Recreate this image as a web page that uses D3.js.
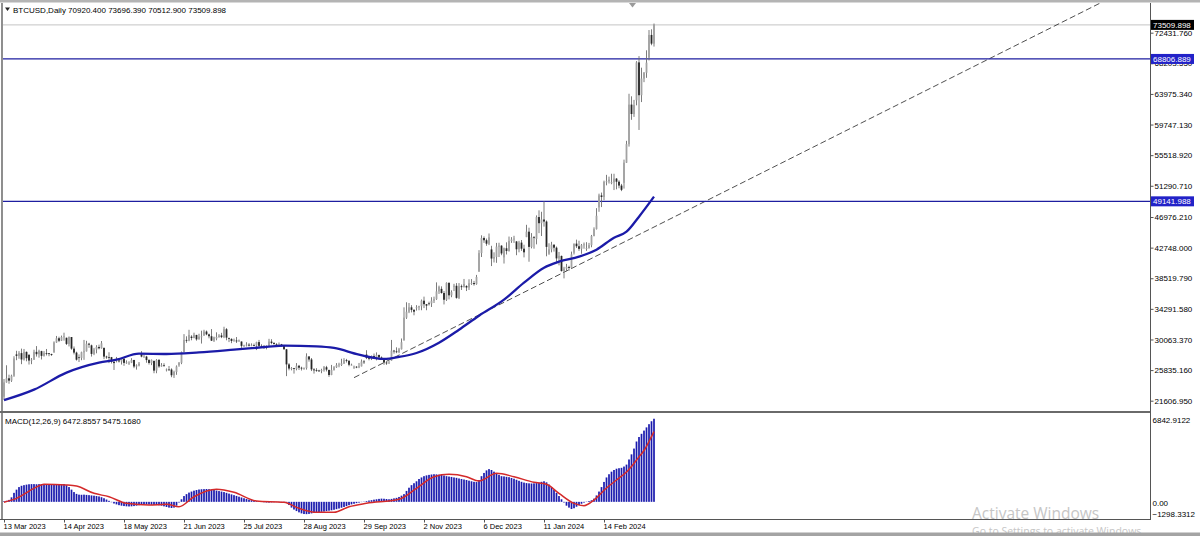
<!DOCTYPE html>
<meta charset="utf-8">
<style>

body {
    margin: 0;
    background: #fff;
}

.chart {
    font-family: "Liberation Sans", Arial, sans-serif;
}

.axis text {
    font-size: 8px;
    fill: #000;
}

.axis--x text {
    font-size: 7.5px;
}

.axis path {
    display: none;
}

.axis line {
    stroke: #555;
}

</style>
<svg class="chart" width="1200" height="536"></svg>
<script src="https://d3js.org/d3.v7.min.js"></script>
<script>

// daily bars, 13 Mar 2023 .. 13 Mar 2024 (weekdays)
var opens = [22150,24130,24700,24380,25050,28000,27800,28180,27300,28350,27950,27150,27270,28350,28030,28450,27800,28180,28170,28050,
    28350,29650,30230,29890,30400,30300,29450,30400,28800,28250,27600,27520,28300,28420,29480,29250,28070,28680,29030,28850,
    28900,27700,27630,27620,26980,27050,27170,27030,27400,26830,26750,26850,27230,26330,26480,28050,27700,27700,27220,26820,
    27100,25760,27240,26340,26500,25850,25920,25910,25120,25580,26500,26840,28320,30000,29900,30450,30270,30690,30080,30450,
    30600,31160,30770,30510,29900,30200,30410,30620,30390,31480,30250,30140,29860,29920,29800,29780,29180,29230,29350,29210,
    29280,29230,29700,29180,29170,29050,29180,29770,29580,29430,29300,29410,29170,28700,26620,26100,26120,26000,26430,26160,
    26050,26100,27720,27300,25930,25850,25780,25750,25840,26230,25850,25160,25850,26220,26530,26550,26760,27210,27130,26570,
    26250,26300,26220,26350,27020,27980,27500,27430,27790,27410,27920,27580,27390,26880,26760,27150,28520,28420,28330,28710,
    29950,33080,33900,34500,34150,34500,34500,34660,35420,34940,35050,35040,35420,35630,36700,37050,36480,35550,37880,36160,
    37350,37480,35810,37420,37290,37450,37240,37830,37860,37710,39450,41990,44080,43770,43290,42500,41240,41450,42890,43020,
    41400,42660,42280,43670,43870,43600,42520,43440,42600,44200,44950,42850,44180,43950,46970,46120,46630,46350,41900,42510,
    43150,42740,41260,41600,39510,39850,40080,39940,42050,43300,42940,42580,43080,42600,42700,43090,44340,45300,48300,49960,
    49740,51830,51900,51650,51780,52280,51850,51320,51700,54480,57040,62500,61200,63100,68330,63800,66100,66900,69000,72120,
    70920.4];
var highs = [24600,26500,25200,25200,27750,28500,28450,28800,28750,28400,28000,27500,28650,29150,28650,28500,28450,28750,28180,28100,
    29800,30550,30450,30600,31000,30320,30480,30400,29100,28380,28000,28380,30000,29880,29600,29350,28900,29270,29350,29850,
    28950,27820,28300,27650,27050,27650,27300,27480,27480,27180,27050,27480,27250,26630,26950,28450,28000,27800,27350,27300,
    27150,27350,27360,26800,26780,26050,26400,26080,25750,26480,26950,28400,30800,30500,31400,30650,31000,30700,30850,31280,
    31400,31300,30870,31500,30450,31050,30800,30980,31820,31630,30330,30220,30180,30400,30050,29790,29330,29680,29560,29520,
    29500,29750,30000,29400,29300,29250,30150,30100,29700,29550,29650,29450,29250,28750,26800,26250,26130,26800,26550,26300,
    26200,28150,27750,27500,26100,26100,25880,26020,26400,26420,25900,26550,26380,26800,26850,27400,27480,27380,27150,26720,
    26450,26380,26820,27300,27220,28580,27680,27850,28120,28280,27980,27720,27480,26940,27100,30000,28620,28980,28900,30200,
    34500,35200,35100,34800,34250,34800,34720,35580,35980,34950,35280,35900,35980,37950,37500,37400,36750,37950,37950,36850,
    37750,37850,37850,37650,38420,37550,38380,38400,38150,38980,42400,44450,44300,44000,44700,43000,42100,43400,43420,43080,
    42750,43480,44280,44200,44380,43650,43680,43800,43150,45900,45500,44750,44350,47200,47900,47700,49142,46500,43350,43550,
    43200,42900,42150,41650,40100,40500,40250,42200,43300,43850,43700,43250,43450,43500,43400,44500,45550,48200,50200,50350,
    52000,52800,52550,52950,52950,52350,52050,51550,54900,57500,64000,63650,63150,68500,69200,67600,67000,70000,72800,72900,
    73696.39];
var lows = [21750,24100,23950,24200,24900,27200,27400,26650,27150,27050,26600,26650,27250,27700,27550,27300,27700,27850,27750,27800,
    28200,29600,29700,29850,29900,29300,29100,28650,28000,27150,26950,27200,27250,28400,28900,27700,27900,28150,28700,28800,
    27350,27400,26800,26750,25850,26900,26880,26600,26420,26700,26550,26800,26100,25900,26350,27600,27550,26850,26600,26520,
    25400,25400,26150,26300,26300,25650,25750,24850,24750,25180,26300,26650,28270,29600,29820,29950,30230,29900,30050,29500,
    30580,30650,30220,29850,29720,29950,30300,30250,30250,29950,29700,29550,29780,29580,29750,28900,29050,29100,29100,29130,
    29130,28600,29000,28950,28750,28700,29100,29400,29350,29350,29150,29050,28700,25000,25800,25800,25350,25800,25850,25780,
    25880,25900,27000,25700,25350,25600,25580,25400,25620,25650,24900,25130,25760,26130,26220,26400,26680,26880,26360,26470,
    26000,26100,26100,26340,26680,27350,27180,27220,27380,27180,27300,27300,26560,26560,26700,27130,28100,28170,28180,28680,
    29900,32900,33700,33800,33400,34050,34100,34100,34400,34100,34750,34550,35100,35530,36350,36400,34900,35380,35600,35900,
    36750,35700,35650,36900,37250,36750,36900,37600,37500,37620,39400,41450,43400,43000,43100,40200,40700,40650,41450,41700,
    40550,41800,42200,43400,43400,41700,42100,42300,41400,44200,40800,42650,42600,43200,44750,44350,45650,41550,41750,42100,
    42200,40650,40300,39450,38500,39500,39550,39850,41800,42700,42300,41900,42600,42300,42600,42800,44320,45250,47700,48350,
    49300,51350,51600,51500,50700,50800,50950,50550,50900,54450,56700,60400,60800,62400,59000,62850,65600,66200,68600,70700,
    70512.9];
var closes = [24130,24700,24380,25050,27430,27800,28180,27300,28350,27480,27150,27270,28350,28030,28480,27800,28180,28170,28050,27920,
    29650,30230,29890,30400,30490,29450,30400,28800,28250,27270,27520,28300,28420,29480,29340,28070,28680,29030,28850,29540,
    27700,27630,27620,26980,26800,27170,27030,27400,26830,26890,26850,27230,26330,26480,26720,27700,27700,27220,26820,27250,
    25760,27240,26340,26500,26480,25920,25910,25120,25580,26330,26840,28320,30000,29900,30690,30270,30690,30080,30450,30480,
    31160,30770,30510,29900,30350,30410,30620,30390,31480,30320,30140,29860,29920,29800,29910,29180,29230,29350,29210,29320,
    29230,29700,29180,29170,29050,29180,29770,29580,29430,29400,29410,29170,28700,26620,26050,26120,26000,26430,26160,26050,
    26100,27720,27300,25930,25800,25780,25750,25840,26230,25900,25160,25850,26220,26530,26610,26760,27210,27130,26570,26580,
    26300,26220,26350,27020,26910,27500,27430,27790,27410,27930,27580,27390,26880,26760,26860,28520,28420,28330,28710,29680,
    33080,33900,34500,34150,33900,34500,34660,35420,34940,34730,35040,35420,35630,36700,37330,36480,35550,37880,36160,36600,
    37480,35810,37420,37290,37720,37240,37830,37860,37710,38690,41990,44080,43770,43290,44170,41240,41450,42890,43020,41940,
    42660,42280,43670,43870,43990,42520,43440,42600,42100,44950,42850,44180,44160,46970,46120,46630,46350,42850,42510,43150,
    42740,41260,41620,39510,39850,40080,39940,41820,43300,42940,42580,43080,43190,42700,43090,44340,45300,47150,49960,49740,
    51830,51900,52130,51780,52280,51850,51320,50730,54480,57040,62500,61200,62440,68330,63800,66100,66900,68300,72120,70920,
    73509.898];

// moving average (bar index, price)
var maBars   = [0, 12, 25, 38, 45, 54, 65, 78, 92, 105, 112, 125, 132, 142, 152, 158, 165, 174, 182, 190, 200, 208, 216, 222, 230, 237, 244, 249, 254, 260];
var maValues = [21680, 23130, 25478, 26859, 27273, 28102, 28060, 28281, 28654, 29027, 29206, 29110, 28889, 27964, 27370, 27646, 28198, 29621, 31416, 33350,
    35559, 37907, 39978, 40807, 41497, 42464, 44121, 44950, 47021, 49784];

// MACD(12,26,9) main values, one per bar
var macdMain = [50,80,150,350,700,950,1150,1250,1300,1340,1370,1380,1380,1370,1380,1390,1380,1350,1330,1320,
    1340,1360,1370,1380,1390,1300,1150,950,760,620,560,550,560,540,520,500,480,450,420,360,
    280,180,80,-30,-130,-200,-260,-300,-330,-350,-360,-350,-330,-300,-260,-230,-210,-200,-210,-230,
    -240,-250,-270,-300,-350,-400,-450,-480,-450,-300,-50,200,450,600,720,800,870,920,960,980,
    990,1000,990,960,920,880,840,800,760,700,640,580,520,460,400,340,280,220,170,130,
    90,60,30,0,-30,-50,-60,-40,-30,-20,-30,-40,-50,-80,-250,-450,-600,-720,-820,-900,
    -950,-960,-940,-900,-860,-830,-800,-780,-760,-720,-690,-660,-620,-570,-520,-460,-400,-330,-260,-200,
    -150,-100,-60,-20,20,60,100,130,170,200,230,250,240,220,200,230,270,310,380,480,
    600,850,1100,1300,1450,1600,1780,1900,2000,2060,2100,2130,2150,2140,2120,2090,2050,2000,1970,1940,
    1900,1870,1820,1780,1740,1700,1650,1600,1560,1540,1700,2000,2250,2450,2550,2480,2350,2200,2100,2000,
    1980,1950,1920,1860,1800,1720,1640,1560,1500,1460,1440,1430,1440,1460,1500,1560,1600,1520,1350,1150,
    950,700,450,200,-50,-300,-450,-560,-500,-380,-250,-150,-60,20,60,120,250,500,800,1150,
    1550,1900,2150,2350,2480,2580,2620,2650,2750,2900,3300,3700,4150,4700,5050,5300,5550,5800,6050,6280,
    6472.8557];

// MACD signal line (bar index, value)
var signalBars   = [0, 5, 12, 16, 25, 29, 36, 42, 49, 58, 65, 70, 76, 85, 92, 101, 112, 118, 125, 132, 138, 145, 158, 165, 172, 178, 185, 190,
    197, 204, 212, 217, 222, 228, 232, 236, 241, 245, 249, 254, 256, 258, 260];
var signalValues = [-30, 273, 1052, 1363, 1309, 1231, 662, 397, -117, -249, -195, -382, 397, 974, 740, 62, -39, -506, -818, -818, -382, -117, 195, 1052, 1955, 2142, 1955, 1620,
    2220, 1955, 1519, 1363, 662, -117, -300, 140, 1075, 1700, 2320, 3500, 4000, 4700, 5475.168];

// horizontal levels and dashed trend ray
var levels = [68806.889, 49141.988];
var bidPrice = 73509.898;
var trendBars = [140, 224];
var trendPrices = [24790, 39350];

var priceTicks = [72431.76, 68203.55, 63975.34, 59747.13, 55518.92, 51290.71, 46976.21, 42748.00, 38519.79, 34291.58, 30063.37, 25835.16, 21606.95];
var macdTicks = [6842.9122, 0, -1298.3312];
var xTickBars = [0, 24, 48, 72, 96, 120, 144, 168, 192, 216, 240];
var xTickLabels = ["13 Mar 2023", "14 Apr 2023", "18 May 2023", "21 Jun 2023", "25 Jul 2023", "28 Aug 2023",
    "29 Sep 2023", "2 Nov 2023", "6 Dec 2023", "11 Jan 2024", "14 Feb 2024"];

var svg = d3.select("svg"),
    plotLeft = 3, plotRight = 1150,
    plotTop = 3, mainBottom = 411,
    macdTop = 413, plotBottom = 519;

var x = d3.scaleLinear().domain([0, 260]).range([4, 654]),
    y = d3.scaleLinear().domain([21606.95, 72431.76]).range([400.7, 32.7]),
    ym = d3.scaleLinear().domain([-1298.3312, 6842.9122]).range([518.5, 414]);

var defs = svg.append("defs");
defs.append("clipPath").attr("id", "clip-main")
    .append("rect").attr("x", plotLeft).attr("y", plotTop)
    .attr("width", plotRight - plotLeft).attr("height", mainBottom - plotTop);
defs.append("clipPath").attr("id", "clip-macd")
    .append("rect").attr("x", plotLeft).attr("y", macdTop)
    .attr("width", plotRight - plotLeft).attr("height", plotBottom - macdTop);

// window chrome
svg.append("rect").attr("x", 0).attr("y", 0).attr("width", 1200).attr("height", 2.5).style("fill", "#b4b4b4");

var gMain = svg.append("g").attr("clip-path", "url(#clip-main)");
var gMacd = svg.append("g").attr("clip-path", "url(#clip-macd)");

// bid line
gMain.append("line")
    .attr("x1", plotLeft).attr("x2", plotRight)
    .attr("y1", y(bidPrice)).attr("y2", y(bidPrice))
    .style("stroke", "#c4c4c4").style("stroke-width", 1);

// trend ray
var trend = d3.scaleLinear().domain(trendBars).range(trendPrices);
gMain.append("line")
    .attr("x1", x(trendBars[0])).attr("y1", y(trendPrices[0]))
    .attr("x2", x(480)).attr("y2", y(trend(480)))
    .style("stroke", "#222").style("stroke-width", 0.8)
    .style("stroke-dasharray", "6,3");

// horizontal levels
gMain.selectAll(".level")
    .data(levels)
    .enter().append("line")
    .attr("class", "level")
    .attr("x1", plotLeft).attr("x2", plotRight)
    .attr("y1", function(d) { return y(d); })
    .attr("y2", function(d) { return y(d); })
    .style("stroke", "#1e1ea0").style("stroke-width", 1.3);

// candles
var bars = d3.range(closes.length);

gMain.selectAll(".wick")
    .data(bars)
    .enter().append("line")
    .attr("class", "wick")
    .attr("x1", function(i) { return x(i); })
    .attr("x2", function(i) { return x(i); })
    .attr("y1", function(i) { return y(highs[i]); })
    .attr("y2", function(i) { return y(lows[i]); })
    .style("stroke", "#6e6e6e").style("stroke-width", 0.9);

gMain.selectAll(".body")
    .data(bars)
    .enter().append("rect")
    .attr("class", "body")
    .attr("x", function(i) { return x(i) - 0.9; })
    .attr("width", 1.8)
    .attr("y", function(i) { return y(Math.max(opens[i], closes[i])); })
    .attr("height", function(i) { return Math.max(0.8, Math.abs(y(opens[i]) - y(closes[i]))); })
    .style("fill", function(i) { return closes[i] >= opens[i] ? "#a2a2a2" : "#262626"; });

// moving average
gMain.append("path")
    .datum(maBars)
    .attr("d", d3.line()
        .x(function(d) { return x(d); })
        .y(function(d, k) { return y(maValues[k]); })
        .curve(d3.curveMonotoneX))
    .style("fill", "none")
    .style("stroke", "#1b1ba8")
    .style("stroke-width", 2.3);

// MACD histogram
gMacd.selectAll(".hist")
    .data(bars)
    .enter().append("rect")
    .attr("class", "hist")
    .attr("x", function(i) { return x(i) - 0.85; })
    .attr("width", 1.7)
    .attr("y", function(i) { return Math.min(ym(0), ym(macdMain[i])); })
    .attr("height", function(i) { return Math.abs(ym(0) - ym(macdMain[i])); })
    .style("fill", "#1a1aae");

gMacd.append("path")
    .datum(signalBars)
    .attr("d", d3.line()
        .x(function(d) { return x(d); })
        .y(function(d, k) { return ym(signalValues[k]); })
        .curve(d3.curveMonotoneX))
    .style("fill", "none")
    .style("stroke", "#d42a2a")
    .style("stroke-width", 1.5);

// frames
svg.append("line").attr("x1", 2).attr("x2", 2).attr("y1", plotTop).attr("y2", plotBottom)
    .style("stroke", "#444").style("stroke-width", 1.2);
svg.append("line").attr("x1", 0).attr("x2", plotRight).attr("y1", 412).attr("y2", 412)
    .style("stroke", "#6a6a6a").style("stroke-width", 2);
svg.append("line").attr("x1", 0).attr("x2", plotRight).attr("y1", plotBottom + 0.5).attr("y2", plotBottom + 0.5)
    .style("stroke", "#555").style("stroke-width", 1);
svg.append("line").attr("x1", plotRight + 0.5).attr("x2", plotRight + 0.5).attr("y1", plotTop).attr("y2", plotBottom + 1)
    .style("stroke", "#555").style("stroke-width", 1);

// price axis
svg.append("g")
    .attr("class", "axis axis--y")
    .attr("transform", "translate(" + (plotRight + 0.5) + ",0)")
    .call(d3.axisRight(y).tickValues(priceTicks).tickSize(3).tickPadding(1)
        .tickFormat(d3.format(".3f")));

// MACD axis
var macdAxis = svg.append("g")
    .attr("class", "axis axis--m")
    .attr("transform", "translate(" + (plotRight + 0.5) + ",0)")
    .call(d3.axisRight(ym).tickValues(macdTicks).tickSize(0).tickPadding(2)
        .tickFormat(function(d) { return d === 0 ? "0.00" : d3.format(".4f")(d); }));
macdAxis.selectAll("text")
    .attr("dy", function(d) { return d === macdTicks[0] ? "1.05em" : (d === macdTicks[2] ? "-0.2em" : "0.4em"); });

// price tags on the axis
function tag(value, color) {
    var g = svg.append("g").attr("transform", "translate(" + (plotRight + 1) + "," + y(value) + ")");
    g.append("rect").attr("x", 0).attr("y", -5).attr("width", 43).attr("height", 10).style("fill", color);
    g.append("text").attr("x", 2).attr("dy", "0.35em")
        .style("font-size", "8px").style("fill", "#fff")
        .text(d3.format(".3f")(value));
}
tag(bidPrice, "#000");
levels.forEach(function(d) { tag(d, "#2222c8"); });

// time axis
var xAxis = svg.append("g")
    .attr("class", "axis axis--x")
    .attr("transform", "translate(0," + (plotBottom + 0.5) + ")")
    .call(d3.axisBottom(x).tickValues(xTickBars).tickSize(3).tickPadding(1)
        .tickFormat(function(d, k) { return xTickLabels[k]; }));
xAxis.selectAll("text").style("text-anchor", "start").attr("dx", "-1");

// headers
svg.append("path").attr("d", "M5,7.5 L10,7.5 L7.5,11 Z").style("fill", "#222");
svg.append("text").attr("x", 13).attr("y", 13)
    .style("font-size", "8px")
    .text("BTCUSD,Daily  70920.400 73696.390 70512.900 73509.898");
svg.append("text").attr("x", 5).attr("y", 424)
    .style("font-size", "8px")
    .text("MACD(12,26,9) 6472.8557 5475.1680");
svg.append("path").attr("d", "M629,3 L636,3 L632.5,7.5 Z").style("fill", "#9a9a9a");

// watermark
svg.append("text").attr("x", 972).attr("y", 519)
    .style("font-family", "'Open Sans', sans-serif").style("font-size", "15.5px").style("fill", "#c6c6c6")
    .text("Activate Windows");
svg.append("text").attr("x", 972).attr("y", 535)
    .style("font-family", "'Open Sans', sans-serif").style("font-size", "10.5px").style("fill", "#c6c6c6")
    .text("Go to Settings to activate Windows.");
svg.append("rect").attr("x", 0).attr("y", 532.5).attr("width", 1200).attr("height", 3.5).style("fill", "#a4a4a4");

</script>
